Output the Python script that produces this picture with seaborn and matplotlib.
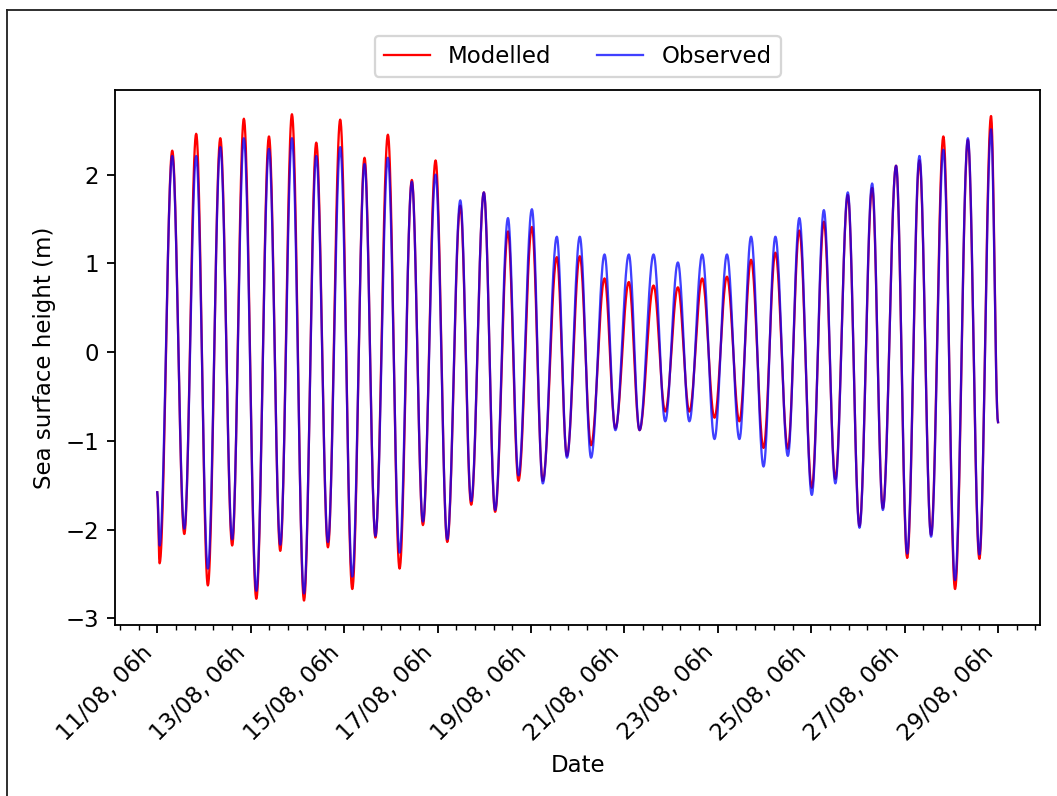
import numpy as np
import pandas as pd
import matplotlib
matplotlib.use("Agg")
import matplotlib.pyplot as plt
import matplotlib.dates as mdates
from matplotlib.ticker import AutoMinorLocator, FixedLocator
from matplotlib.lines import Line2D
import seaborn as sns

# ---------------- data ----------------
start_time = "2019-08-11 06:00"

# hours after 11/08 06h of the start, each low / high water, and the end
extreme_hours = [0.0, 1.2, 7.7, 13.9, 20.0, 26.0, 32.4, 38.5, 44.5, 50.9, 57.4,
                 63.2, 69.2, 75.4, 81.7, 87.7, 94.0, 100.2, 106.5, 112.1, 118.5,
                 124.5, 130.8, 136.5, 143.0, 149.0, 155.7, 161.3, 167.8, 173.6,
                 180.2, 185.6, 192.5, 198.1, 205.3, 210.5, 217.1, 222.9, 229.8,
                 235.4, 242.3, 247.8, 255.0, 261.0, 267.5, 273.4, 280.0, 286.3,
                 292.7, 299.1, 305.1, 311.5, 317.6, 324.0, 329.9, 336.3, 342.5,
                 348.4, 354.8, 360.8, 367.3, 372.8, 379.6, 385.3, 391.6, 397.6,
                 403.9, 409.9, 416.5, 422.4, 428.4, 432.0]

modelled_extremes = [-1.58, -2.38, 2.27, -2.05, 2.46, -2.63, 2.41, -2.18, 2.63,
                     -2.78, 2.43, -2.24, 2.68, -2.80, 2.36, -2.20, 2.62, -2.67,
                     2.19, -2.09, 2.45, -2.44, 1.94, -1.95, 2.16, -2.14, 1.65,
                     -1.72, 1.80, -1.80, 1.36, -1.45, 1.41, -1.45, 1.07, -1.17,
                     1.08, -1.05, 0.83, -0.86, 0.79, -0.88, 0.75, -0.67, 0.73,
                     -0.67, 0.83, -0.74, 0.85, -0.78, 1.04, -1.08, 1.12, -1.09,
                     1.37, -1.53, 1.47, -1.43, 1.77, -1.96, 1.85, -1.76, 2.10,
                     -2.32, 2.16, -2.06, 2.43, -2.67, 2.39, -2.33, 2.66, -0.79]

observed_extremes = [-1.58, -2.18, 2.21, -1.99, 2.21, -2.44, 2.31, -2.11, 2.41,
                     -2.69, 2.29, -2.17, 2.41, -2.72, 2.21, -2.14, 2.31, -2.53,
                     2.12, -2.07, 2.19, -2.26, 1.92, -1.91, 2.00, -2.11, 1.71,
                     -1.68, 1.80, -1.78, 1.51, -1.39, 1.61, -1.48, 1.30, -1.19,
                     1.30, -1.19, 1.10, -0.88, 1.10, -0.88, 1.10, -0.78, 1.01,
                     -0.78, 1.10, -0.98, 1.10, -0.98, 1.30, -1.29, 1.30, -1.17,
                     1.51, -1.61, 1.60, -1.48, 1.80, -1.98, 1.90, -1.78, 2.10,
                     -2.27, 2.21, -2.08, 2.28, -2.57, 2.41, -2.28, 2.51, -0.79]

tick_dates = ["2019-08-11 06:00", "2019-08-13 06:00", "2019-08-15 06:00",
              "2019-08-17 06:00", "2019-08-19 06:00", "2019-08-21 06:00",
              "2019-08-23 06:00", "2019-08-25 06:00", "2019-08-27 06:00",
              "2019-08-29 06:00"]

series_labels = ["Modelled", "Observed"]
series_colors = ["red", "blue"]


def tide_curve(ext_h, ext_v, step=0.25):
    """Trace the tide between the read high/low waters with half-cosine arcs."""
    ext_h = np.asarray(ext_h, float)
    ext_v = np.asarray(ext_v, float)
    grid = np.union1d(np.arange(ext_h[0], ext_h[-1] + 1e-9, step), ext_h)
    idx = np.clip(np.searchsorted(ext_h, grid, side="right") - 1, 0, len(ext_h) - 2)
    h0, h1 = ext_h[idx], ext_h[idx + 1]
    v0, v1 = ext_v[idx], ext_v[idx + 1]
    frac = (grid - h0) / (h1 - h0)
    vals = v0 + (v1 - v0) * (1 - np.cos(np.pi * frac)) / 2
    return grid, vals


# ---------------- figure ----------------
fig = plt.figure(figsize=(1057 / 165, 796 / 165), dpi=165)
ax = fig.add_axes([0.109, 0.215, 0.875, 0.672])

t0 = pd.Timestamp(start_time)
for lab, col, ext, alpha in zip(series_labels, series_colors,
                                [modelled_extremes, observed_extremes], [1.0, 0.75]):
    hrs, vals = tide_curve(extreme_hours, ext)
    df = pd.DataFrame({"Date": t0 + pd.to_timedelta(hrs, unit="h"), "height": vals})
    sns.lineplot(data=df, x="Date", y="height", color=col, linewidth=1.0,
                 alpha=alpha, label=lab, ax=ax, estimator=None)

ax.xaxis.set_major_locator(FixedLocator(mdates.date2num(pd.to_datetime(tick_dates))))
ax.xaxis.set_major_formatter(mdates.DateFormatter("%d/%m, %Hh"))
ax.xaxis.set_minor_locator(AutoMinorLocator(5))
plt.setp(ax.get_xticklabels(), rotation=45, ha="right")

ax.set_xlabel("Date")
ax.set_ylabel("Sea surface height (m)")

ax.legend(loc="lower center", bbox_to_anchor=(0.5, 1.003), ncol=2)

# thin frame visible on the left/top of the original picture
fig.add_artist(Line2D([7 / 1057, 7 / 1057], [0, 1 - 10 / 796],
                      transform=fig.transFigure, color="#222222", lw=0.8))
fig.add_artist(Line2D([7 / 1057, 1], [1 - 10 / 796, 1 - 10 / 796],
                      transform=fig.transFigure, color="#222222", lw=0.8))

fig.savefig("out.png", dpi=165)
